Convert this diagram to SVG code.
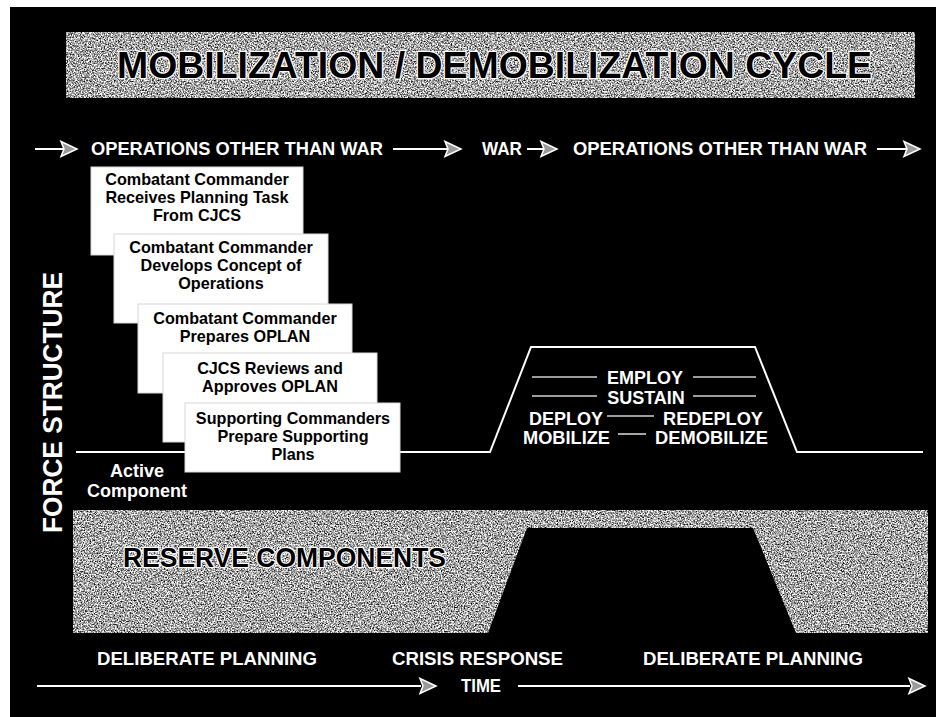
<svg xmlns="http://www.w3.org/2000/svg" width="936" height="717" viewBox="0 0 936 717">
  <defs>
    <style>
      .lbl { font-family: "Liberation Sans", Arial, sans-serif; font-weight: bold; fill: #ffffff; }
      .box rect { fill: #ffffff; stroke: #d8d8d8; stroke-width: 1; }
      .box text { font-family: "Liberation Sans", Arial, sans-serif; font-weight: bold; font-size: 16.2px; fill: #000000; text-anchor: middle; }
      .outlined { font-family: "Liberation Sans", Arial, sans-serif; font-weight: bold; fill: #000000; stroke: #ffffff; stroke-width: 2.4; paint-order: stroke; stroke-linejoin: round; }
      .wline { stroke: #ffffff; stroke-width: 2; fill: none; stroke-linejoin: miter; }
      .thin { stroke: #d0d0d0; stroke-width: 1.6; fill: none; }
      .head { fill: #9a9a9a; stroke: #ffffff; stroke-width: 1.5; stroke-linejoin: miter; }
    </style>
    <filter id="speckle" x="0" y="0" width="1" height="1" color-interpolation-filters="sRGB">
      <feTurbulence type="fractalNoise" baseFrequency="0.7" numOctaves="3" seed="7" result="n"/>
      <feColorMatrix in="n" type="matrix" values="1 0 0 0 0  1 0 0 0 0  1 0 0 0 0  0 0 0 0 1" result="g"/>
      <feComponentTransfer in="g" result="c">
        <feFuncR type="linear" slope="2.1" intercept="-0.4"/>
        <feFuncG type="linear" slope="2.1" intercept="-0.4"/>
        <feFuncB type="linear" slope="2.1" intercept="-0.4"/>
      </feComponentTransfer>
      <feComposite in="c" in2="SourceGraphic" operator="in"/>
    </filter>
    <path id="ah" class="head" d="M-16,-7.5 L0,0 L-16,7.5 L-13,0 Z"/>
  </defs>

  <!-- background -->
  <rect x="0" y="0" width="936" height="717" fill="#ffffff"/>
  <rect x="10" y="7" width="926" height="710" fill="#000000"/>

  <!-- title banner -->
  <g id="title">
    <rect x="66" y="32" width="849" height="66" fill="#aaaaaa" filter="url(#speckle)"/>
    <text class="outlined" x="117" y="78" font-size="37" textLength="755" lengthAdjust="spacingAndGlyphs">MOBILIZATION / DEMOBILIZATION CYCLE</text>
  </g>

  <!-- reserve components band -->
  <g id="reserve">
    <rect x="73" y="510" width="855" height="123" fill="#aaaaaa" filter="url(#speckle)"/>
    <polygon points="488,633 527,528 753,528 796,633" fill="#000000"/>
    <text class="outlined" x="123" y="567" font-size="27" textLength="323" lengthAdjust="spacingAndGlyphs">RESERVE COMPONENTS</text>
  </g>

  <!-- connectors -->
  <g id="connectors">
    <!-- top phase row -->
    <line class="wline" x1="35" y1="149" x2="64" y2="149"/>
    <use href="#ah" x="77" y="149"/>
    <line class="wline" x1="393" y1="149" x2="448" y2="149"/>
    <use href="#ah" x="461" y="149"/>
    <line class="wline" x1="527" y1="149" x2="544" y2="149"/>
    <use href="#ah" x="557" y="149"/>
    <line class="wline" x1="877" y1="149" x2="907" y2="149"/>
    <use href="#ah" x="920" y="149"/>
    <!-- time axis -->
    <line class="wline" x1="37" y1="686" x2="421" y2="686"/>
    <use href="#ah" x="436" y="686"/>
    <line class="wline" x1="518" y1="686" x2="910" y2="686"/>
    <use href="#ah" x="925" y="686"/>
    <!-- active component force level -->
    <polyline class="wline" points="76,452 490,452 531,347 755,347 797,452 923,452"/>
    <!-- phase lines inside the surge -->
    <line class="thin" x1="532" y1="377" x2="597" y2="377"/>
    <line class="thin" x1="693" y1="377" x2="756" y2="377"/>
    <line class="thin" x1="532" y1="396" x2="597" y2="396"/>
    <line class="thin" x1="693" y1="396" x2="756" y2="396"/>
    <line class="thin" x1="607" y1="416" x2="654" y2="416"/>
    <line class="thin" x1="618" y1="434" x2="646" y2="434"/>
  </g>

  <!-- top phase labels -->
  <g id="phases-top">
    <text class="lbl" x="91" y="155" font-size="18" textLength="292" lengthAdjust="spacingAndGlyphs">OPERATIONS OTHER THAN WAR</text>
    <text class="lbl" x="482" y="155" font-size="18" textLength="40" lengthAdjust="spacingAndGlyphs">WAR</text>
    <text class="lbl" x="573" y="155" font-size="18" textLength="294" lengthAdjust="spacingAndGlyphs">OPERATIONS OTHER THAN WAR</text>
  </g>

  <!-- planning step boxes -->
  <g id="box1" class="box">
    <rect x="91" y="167" width="212" height="88"/>
    <text x="197" y="185">Combatant Commander</text>
    <text x="197" y="203">Receives Planning Task</text>
    <text x="197" y="221">From CJCS</text>
  </g>
  <g id="box2" class="box">
    <rect x="114" y="234" width="214" height="89"/>
    <text x="221" y="253">Combatant Commander</text>
    <text x="221" y="271">Develops Concept of</text>
    <text x="221" y="289">Operations</text>
  </g>
  <g id="box3" class="box">
    <rect x="138" y="304" width="214" height="89"/>
    <text x="245" y="324">Combatant Commander</text>
    <text x="245" y="342">Prepares OPLAN</text>
  </g>
  <g id="box4" class="box">
    <rect x="163" y="353" width="214" height="89"/>
    <text x="270" y="374">CJCS Reviews and</text>
    <text x="270" y="392">Approves OPLAN</text>
  </g>
  <g id="box5" class="box">
    <rect x="185" y="403" width="215" height="69"/>
    <text x="293" y="424">Supporting Commanders</text>
    <text x="293" y="442">Prepare Supporting</text>
    <text x="293" y="460">Plans</text>
  </g>

  <!-- surge phase labels -->
  <g id="surge-labels">
    <text class="lbl" x="645" y="384" font-size="18" text-anchor="middle">EMPLOY</text>
    <text class="lbl" x="646" y="404" font-size="18" text-anchor="middle">SUSTAIN</text>
    <text class="lbl" x="529" y="425" font-size="18" textLength="74" lengthAdjust="spacingAndGlyphs">DEPLOY</text>
    <text class="lbl" x="663" y="425" font-size="18" textLength="100" lengthAdjust="spacingAndGlyphs">REDEPLOY</text>
    <text class="lbl" x="523" y="444" font-size="18" textLength="87" lengthAdjust="spacingAndGlyphs">MOBILIZE</text>
    <text class="lbl" x="655" y="444" font-size="18" textLength="113" lengthAdjust="spacingAndGlyphs">DEMOBILIZE</text>
  </g>

  <!-- axis labels -->
  <g id="force-structure">
    <text class="lbl" transform="translate(62,533) rotate(-90)" x="0" y="0" font-size="27" textLength="261" lengthAdjust="spacingAndGlyphs">FORCE STRUCTURE</text>
  </g>
  <g id="active-component">
    <text class="lbl" x="137" y="477" font-size="18" text-anchor="middle">Active</text>
    <text class="lbl" x="137" y="497" font-size="18" text-anchor="middle">Component</text>
  </g>
  <g id="bottom-labels">
    <text class="lbl" x="97" y="665" font-size="18" textLength="220" lengthAdjust="spacingAndGlyphs">DELIBERATE PLANNING</text>
    <text class="lbl" x="392" y="665" font-size="18" textLength="171" lengthAdjust="spacingAndGlyphs">CRISIS RESPONSE</text>
    <text class="lbl" x="643" y="665" font-size="18" textLength="220" lengthAdjust="spacingAndGlyphs">DELIBERATE PLANNING</text>
    <text class="lbl" x="461" y="692" font-size="18" textLength="40" lengthAdjust="spacingAndGlyphs">TIME</text>
  </g>
</svg>
